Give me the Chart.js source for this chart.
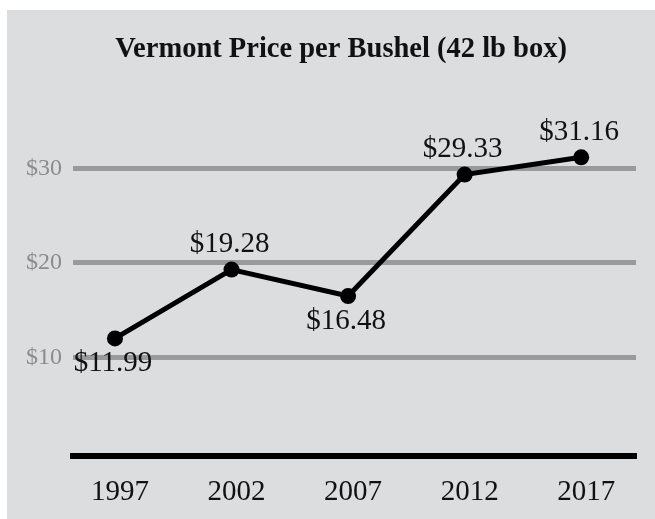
<!DOCTYPE html>
<html>
<head>
<meta charset="utf-8">
<script src="https://cdn.jsdelivr.net/npm/chart.js@4"></script>
<style>
  html, body { margin: 0; padding: 0; background: #ffffff; }
  #wrap { width: 655px; height: 519px; position: relative; }
</style>
</head>
<body>
<div id="wrap"><canvas id="c" width="655" height="519"></canvas></div>
<script>
// ---- data ----
const years = [1997, 2002, 2007, 2012, 2017];
const prices = [11.99, 19.28, 16.48, 29.33, 31.16];
const priceLabels = ['$11.99', '$19.28', '$16.48', '$29.33', '$31.16'];
const yTicks = [10, 20, 30];
const yTickLabels = ['$10', '$20', '$30'];
const titleText = 'Vermont Price per Bushel (42 lb box)';

const SERIF = '"Liberation Serif", "Times New Roman", serif';

const panelPlugin = {
  id: 'panel',
  beforeDraw(chart) {
    const ctx = chart.ctx;
    ctx.save();
    ctx.fillStyle = '#dcdddf';
    ctx.fillRect(7, 10, chart.width - 7, chart.height - 10);
    ctx.restore();
  }
};

// nudge the title block so its centre matches the reference
const titleShiftPlugin = {
  id: 'titleShift',
  afterLayout(chart) {
    const t = chart.titleBlock;
    if (t) { t.left += 9.5; t.right += 9.5; }
  }
};

const labelSide = [1, -1, 1, -1, -1]; // 1 = below, -1 = above
const valueLabelPlugin = {
  id: 'valueLabels',
  afterDatasetsDraw(chart) {
    const ctx = chart.ctx;
    const meta = chart.getDatasetMeta(0);
    ctx.save();
    ctx.font = '29px ' + SERIF;
    ctx.fillStyle = '#111111';
    ctx.textAlign = 'center';
    ctx.textBaseline = 'middle';
    meta.data.forEach((pt, i) => {
      ctx.fillText(priceLabels[i], pt.x - 2, pt.y + labelSide[i] * 25);
    });
    ctx.restore();
  }
};

new Chart(document.getElementById('c'), {
  type: 'line',
  data: {
    datasets: [{
      data: years.map((y, i) => ({ x: y, y: prices[i] })),
      borderColor: '#000000',
      backgroundColor: '#000000',
      borderWidth: 5,
      pointRadius: 8,
      pointHoverRadius: 8,
      pointBackgroundColor: '#000000',
      pointBorderWidth: 0,
      tension: 0,
      fill: false
    }]
  },
  options: {
    responsive: false,
    animation: false,
    events: [],
    layout: { padding: { left: 27, right: 19, top: 0, bottom: 0 } },
    plugins: {
      legend: { display: false },
      tooltip: { enabled: false },
      title: {
        display: true,
        text: titleText,
        color: '#111111',
        font: { family: SERIF, size: 28.5, weight: 'bold', lineHeight: 1.2 },
        padding: { top: 33, bottom: 44.4 }
      }
    },
    scales: {
      x: {
        type: 'linear',
        min: 1995.2,
        max: 2019.35,
        afterBuildTicks(scale) { scale.ticks = years.map(v => ({ value: v })); },
        ticks: {
          color: '#111111',
          font: { family: SERIF, size: 29 },
          padding: 19,
          labelOffset: 5,
          maxRotation: 0,
          autoSkip: false,
          callback: (v) => String(v)
        },
        grid: { display: false, drawTicks: false },
        border: { display: true, color: '#000000', width: 6 },
        afterFit(scale) { scale.height = 519 - 456; }
      },
      y: {
        type: 'linear',
        min: -0.45,
        max: 36,
        afterBuildTicks(scale) { scale.ticks = yTicks.map(v => ({ value: v })); },
        ticks: {
          color: '#8c8c8e',
          font: { family: SERIF, size: 24 },
          padding: 11,
          callback: (v) => yTickLabels[yTicks.indexOf(v)]
        },
        grid: { color: '#999a9c', lineWidth: 5, drawTicks: false },
        border: { display: false },
        afterFit(scale) { scale.width = 73 - 27; }
      }
    }
  },
  plugins: [panelPlugin, titleShiftPlugin, valueLabelPlugin]
});
</script>
</body>
</html>
